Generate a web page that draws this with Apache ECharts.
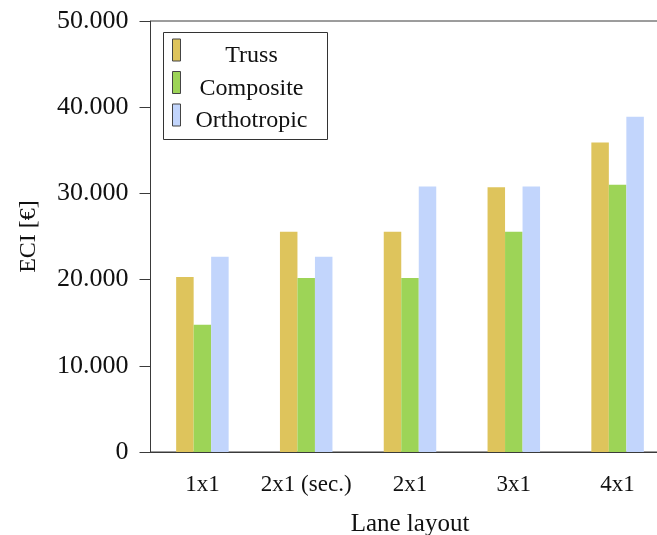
<!DOCTYPE html>
<html>
<head>
<meta charset="utf-8">
<script src="https://cdn.jsdelivr.net/npm/echarts@6/dist/echarts.min.js"></script>
<style>
html,body{margin:0;padding:0;background:#fff;}
#c{width:657px;height:535px;}
</style>
</head>
<body>
<div id="c"></div>
<script>
const categories = ['1x1', '2x1 (sec.)', '2x1', '3x1', '4x1'];
const truss = [20300, 25550, 25550, 30700, 35900];
const composite = [14750, 20200, 20200, 25550, 31000];
const orthotropic = [22650, 22650, 30800, 30800, 38900];
const yTickLabels = ['0', '10.000', '20.000', '30.000', '40.000', '50.000'];
const seriesNames = ['Truss', 'Composite', 'Orthotropic'];
const colors = ['#DEC45C', '#9DD457', '#C2D5FC'];

const FONT = 'Liberation Serif';
const AX = '#3a3a3a';

const chart = echarts.init(document.getElementById('c'), null, {renderer: 'canvas'});
const mk = (name, data, i) => ({
  name: name,
  type: 'bar',
  data: data,
  barWidth: 17.5,
  barGap: '0%',
  itemStyle: {color: colors[i]},
  emphasis: {disabled: true},
  animation: false
});
chart.setOption({
  animation: false,
  grid: {left: 150.5, top: 21, height: 431, width: 519, outerBoundsMode: 'none', containLabel: false,
    show: true, borderColor: AX, borderWidth: 1, backgroundColor: 'transparent'},
  graphic: [{
    type: 'rect', left: 163, top: 32, z: 10, silent: true,
    shape: {width: 164, height: 107},
    style: {fill: 'rgba(0,0,0,0)', stroke: '#333', lineWidth: 1}
  }],
  legend: {
    orient: 'vertical',
    left: 172, top: 32,
    padding: 0,
    itemWidth: 8, itemHeight: 22, itemGap: -3.5,
    icon: 'rect',
    itemStyle: {borderColor: '#444', borderWidth: 1},
    data: seriesNames,
    formatter: '{a|{name}}',
    textStyle: {
      rich: {a: {width: 132, align: 'center', fontSize: 24, fontFamily: FONT, color: '#111', lineHeight: 14, padding: [12, 0, 0, 0]}}
    }
  },
  xAxis: {
    type: 'category',
    data: categories,
    name: 'Lane layout',
    nameLocation: 'middle',
    nameGap: 60,
    nameTextStyle: {fontSize: 25, fontFamily: FONT, color: '#111'},
    axisLine: {lineStyle: {color: AX, width: 1}},
    axisTick: {alignWithLabel: true, length: 11, lineStyle: {color: AX}},
    axisLabel: {interval: 0, fontSize: 23, fontFamily: FONT, color: '#111', margin: 21},
    splitLine: {show: false}
  },
  yAxis: {
    type: 'value',
    min: 0, max: 50000, interval: 10000,
    name: 'ECI [€]',
    nameLocation: 'middle',
    nameGap: 110,
    nameRotate: 90,
    nameTextStyle: {fontSize: 24, fontFamily: FONT, color: '#111'},
    axisLine: {show: true, lineStyle: {color: AX, width: 1}},
    axisTick: {show: true, length: 11, lineStyle: {color: AX}},
    axisLabel: {fontSize: 26, fontFamily: FONT, color: '#111', margin: 22,
      formatter: v => yTickLabels[Math.round(v / 10000)]},
    splitLine: {show: false}
  },
  series: [mk(seriesNames[0], truss, 0), mk(seriesNames[1], composite, 1), mk(seriesNames[2], orthotropic, 2)]
});
</script>
</body>
</html>
